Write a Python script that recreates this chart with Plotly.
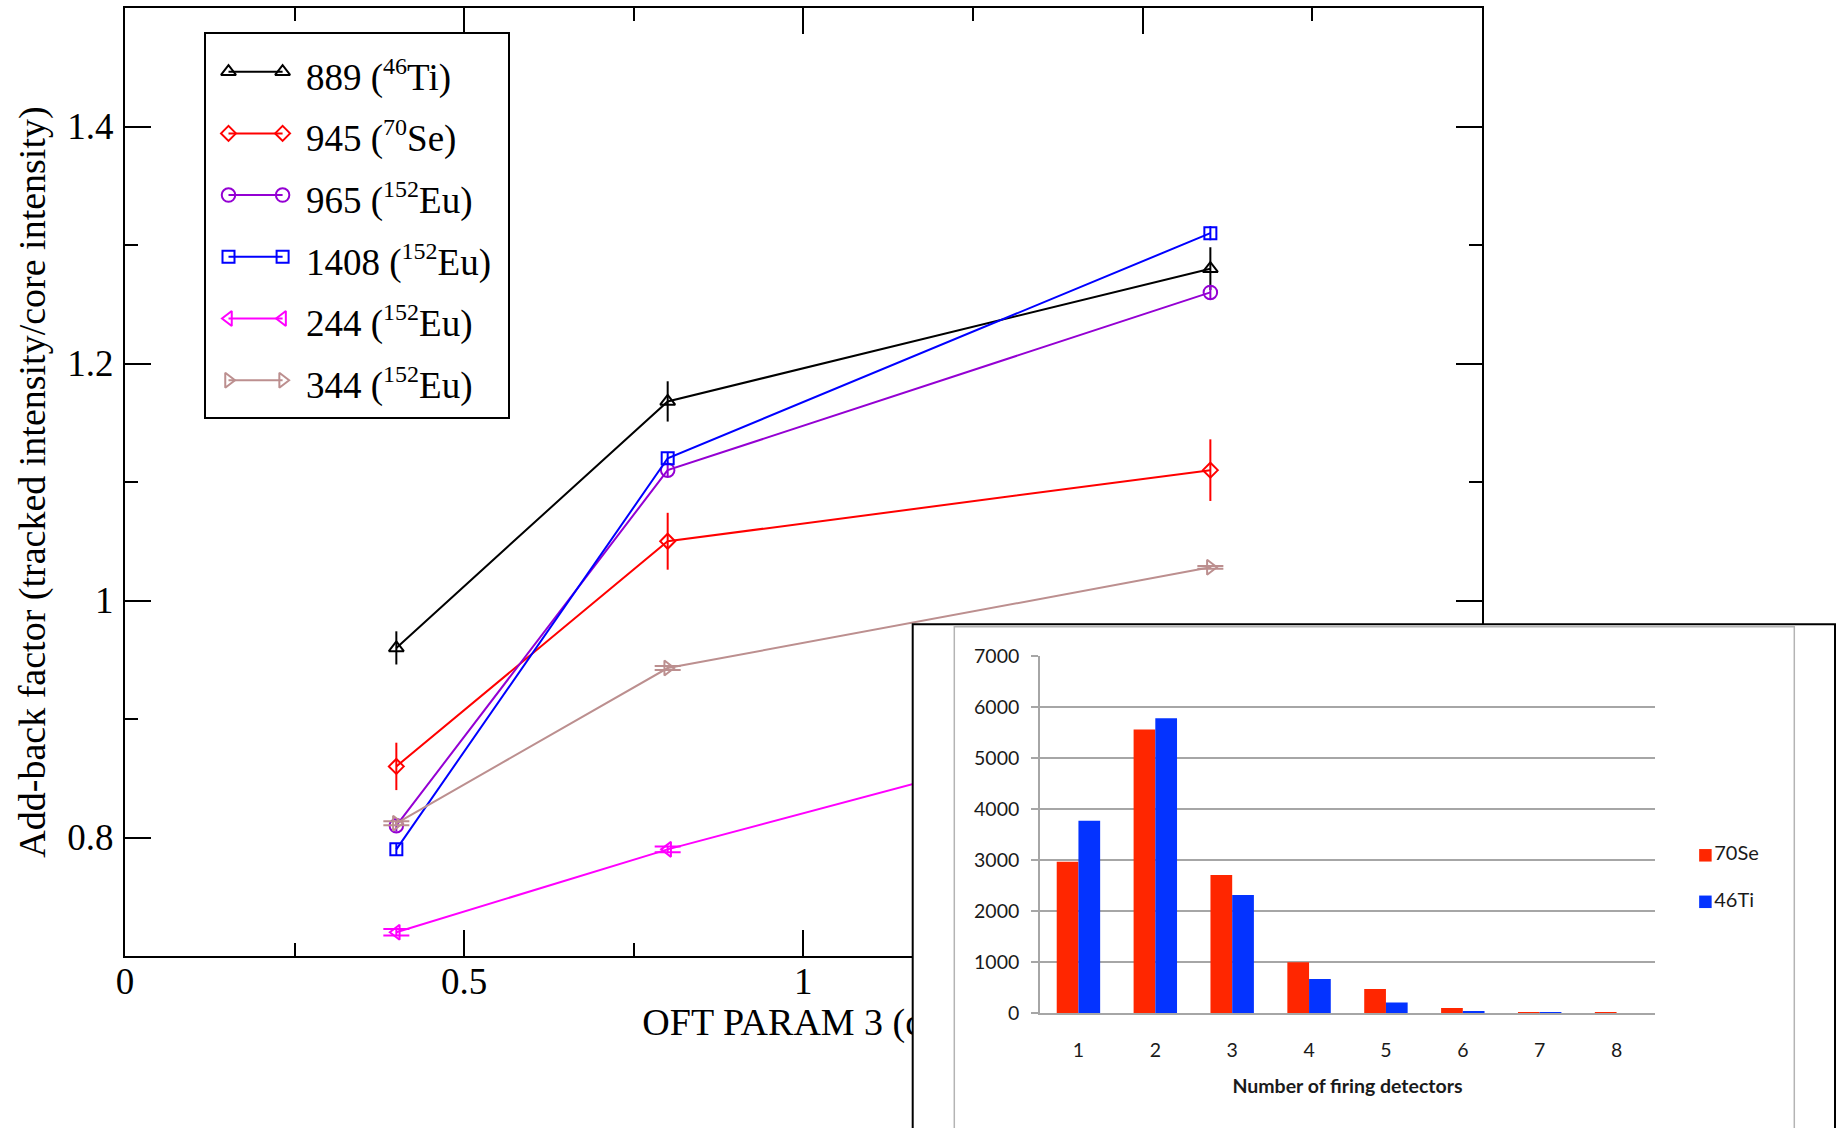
import plotly.graph_objects as go

W, H = 1838, 1128

# ---------------- main panel data: add-back factor vs OFT parameter 3 ----------------
oft_param = [0.4, 0.8, 1.6]

series_names = [
    "889 (<sup>46</sup>Ti)",
    "945 (<sup>70</sup>Se)",
    "965 (<sup>152</sup>Eu)",
    "1408 (<sup>152</sup>Eu)",
    "244 (<sup>152</sup>Eu)",
    "344 (<sup>152</sup>Eu)",
]
ti46_889 = [0.96, 1.168, 1.28]
ti46_889_err = [0.014, 0.017, 0.018]
se70_945 = [0.86, 1.05, 1.11]
se70_945_err = [0.020, 0.024, 0.026]
eu152_965 = [0.81, 1.11, 1.26]
eu152_965_err = [0.005, 0.005, 0.006]
eu152_1408 = [0.79, 1.12, 1.31]
eu152_1408_err = [0.005, 0.005, 0.006]
eu152_244 = [0.72, 0.79, 0.912]
eu152_244_err = [0.0028, 0.0025, 0.0025]
eu152_344 = [0.812, 0.943, 1.028]
eu152_344_err = [0.0017, 0.0017, 0.0012]

x_title = "OFT PARAM 3 (cm)"
y_title = "Add-back factor (tracked intensity/core intensity)"

# ---------------- inset data: firing-detector multiplicity ----------------
n_firing = [1, 2, 3, 4, 5, 6, 7, 8]
counts_70se = [2970, 5560, 2710, 1000, 475, 105, 20, 18]
counts_46ti = [3770, 5780, 2320, 670, 210, 45, 20, 0]

values = [ti46_889, se70_945, eu152_965, eu152_1408, eu152_244, eu152_344]
errors = [ti46_889_err, se70_945_err, eu152_965_err, eu152_1408_err, eu152_244_err, eu152_344_err]
styles = [
    dict(color="#000000", symbol="triangle-up-open", size=13, cap=0),
    dict(color="#ff0000", symbol="diamond-open", size=11.5, cap=0),
    dict(color="#9400d3", symbol="circle-open", size=13.5, cap=0),
    dict(color="#0000ff", symbol="square-open", size=12, cap=0),
    dict(color="#ff00ff", symbol="triangle-left-open", size=13, cap=13),
    dict(color="#bc8f8f", symbol="triangle-right-open", size=13, cap=13),
]

SERIF = "Liberation Serif, Times New Roman, serif"
SANS = "Lato, Open Sans, sans-serif"


def px_x(px):
    return px / W


def px_y(py):
    return 1 - py / H


def sup_small(label):
    # size of the isotope mass numbers written as superscripts
    return label.replace("<sup>", "<sup><span style='font-size:24px'>").replace("</sup>", "</span></sup>")


fig = go.Figure()

# main curves with error bars
for vals, errs, st in zip(values, errors, styles):
    fig.add_trace(go.Scatter(
        x=oft_param, y=vals, mode="lines+markers",
        line=dict(color=st["color"], width=2),
        marker=dict(symbol=st["symbol"], size=st["size"], color=st["color"],
                    line=dict(color=st["color"], width=2)),
        error_y=dict(type="data", array=errs, visible=True, color=st["color"],
                     thickness=2, width=st["cap"]),
        xaxis="x", yaxis="y", showlegend=False, hoverinfo="skip",
    ))

# main x-axis title, drawn in a low subplot layer so the inset hides its tail
fig.add_trace(go.Scatter(
    x=[0.5], y=[0.5], mode="text", text=[x_title], textposition="middle center",
    textfont=dict(family=SERIF, size=38, color="black"),
    xaxis="x2", yaxis="y2", showlegend=False, hoverinfo="skip", cliponaxis=False,
))

# inset panel legend keys (inset frame measured in pixels from its top-left corner)
inset_keys = [("70Se", "#ff2600", 231.0), ("46Ti", "#0433ff", 277.5)]
for name, col, ky in inset_keys:
    fig.add_trace(go.Scatter(
        x=[792.7], y=[ky], mode="markers+text", text=[name], textposition="middle right",
        textfont=dict(family=SANS, size=20, color="#1a1a1a"),
        marker=dict(symbol="square", size=12.5, color=col, line=dict(width=0)),
        xaxis="x3", yaxis="y3", showlegend=False, hoverinfo="skip", cliponaxis=False,
    ))

# inset bars
fig.add_trace(go.Bar(x=n_firing, y=counts_70se, name="70Se", marker=dict(color="#ff2600", line=dict(width=0)),
                     xaxis="x4", yaxis="y4", showlegend=False))
fig.add_trace(go.Bar(x=n_firing, y=counts_46ti, name="46Ti", marker=dict(color="#0433ff", line=dict(width=0)),
                     xaxis="x4", yaxis="y4", showlegend=False))

# main legend box: one row per series, markers at both ends of the sample line
annotations = []
for i, (name, st) in enumerate(zip(series_names, styles)):
    fig.add_trace(go.Scatter(
        x=[22.5, 76.6], y=[i, i], mode="lines+markers",
        line=dict(color=st["color"], width=2),
        marker=dict(symbol=st["symbol"], size=st["size"], color=st["color"],
                    line=dict(color=st["color"], width=2)),
        xaxis="x5", yaxis="y5", showlegend=False, hoverinfo="skip", cliponaxis=False,
    ))
    annotations.append(dict(
        x=97.6, y=i, xref="x5", yref="y5", text=sup_small(name), showarrow=False,
        xanchor="left", yanchor="middle", yshift=-4,
        font=dict(family=SERIF, size=37, color="black"),
    ))

hidden = dict(visible=False, fixedrange=True, automargin=False)
MAIN_X = [px_x(125), px_x(1481.7)]

fig.update_layout(
    template="none",
    width=W, height=H,
    margin=dict(l=0, r=0, t=0, b=0, pad=0, autoexpand=False),
    paper_bgcolor="white", plot_bgcolor="white",
    font=dict(family=SERIF, color="black"),
    showlegend=False,
    bargap=0.435, bargroupgap=0, barmode="group",
    xaxis=dict(
        domain=MAIN_X, range=[0, 2], anchor="y", automargin=False,
        tick0=0, dtick=0.5, ticks="inside", ticklen=26, tickwidth=2, tickcolor="black",
        minor=dict(dtick=0.25, ticks="inside", ticklen=13, tickwidth=2, tickcolor="black", showgrid=False),
        showline=True, linewidth=2, linecolor="black", mirror="allticks",
        showgrid=False, zeroline=False,
        tickfont=dict(family=SERIF, size=37, color="black"),
        ticklabelstandoff=-8,
        fixedrange=True,
    ),
    yaxis=dict(
        domain=[px_y(956), px_y(8)], range=[0.7, 1.5], anchor="x", automargin=False,
        tick0=0, dtick=0.2, ticks="inside", ticklen=26, tickwidth=2, tickcolor="black",
        minor=dict(dtick=0.1, ticks="inside", ticklen=13, tickwidth=2, tickcolor="black", showgrid=False),
        showline=True, linewidth=2, linecolor="black", mirror="allticks",
        showgrid=False, zeroline=False,
        tickfont=dict(family=SERIF, size=37, color="black"),
        ticklabelstandoff=2,
        title=dict(text=y_title, font=dict(family=SERIF, size=38, color="black"), standoff=10),
        fixedrange=True,
    ),
    # strip below the main axis that carries the x title
    xaxis2=dict(domain=MAIN_X, range=[0, 1], anchor="y2", **hidden),
    yaxis2=dict(domain=[px_y(1050), px_y(1000)], range=[0, 1], anchor="x2", **hidden),
    # inset panel, in pixels from its top-left corner
    xaxis3=dict(domain=[px_x(912.7), 1], range=[0, W - 912.7], anchor="y3", **hidden),
    yaxis3=dict(domain=[0, px_y(624.3)], range=[H - 624.3, 0], anchor="x3", **hidden),
    xaxis4=dict(
        domain=[px_x(1040), px_x(1655)], range=[0.5, 8.5], anchor="y4", automargin=False,
        tick0=1, dtick=1, ticks="", showgrid=False, zeroline=False,
        showline=True, linecolor="#a6a6a6", linewidth=1.6,
        tickfont=dict(family=SANS, size=19.5, color="#1a1a1a"),
        ticklabelstandoff=18,
        title=dict(text="<b>Number of firing detectors</b>",
                   font=dict(family=SANS, size=19.5, color="#1a1a1a"), standoff=20),
        fixedrange=True,
    ),
    yaxis4=dict(
        domain=[px_y(1013.3), px_y(656)], range=[0, 7000], anchor="x4", automargin=False,
        tick0=0, dtick=1000, ticks="outside", ticklen=7, tickwidth=1.6, tickcolor="#a6a6a6",
        showgrid=True, gridcolor="#a6a6a6", gridwidth=1.6, zeroline=False,
        showline=True, linecolor="#a6a6a6", linewidth=1.6,
        tickfont=dict(family=SANS, size=19.5, color="#1a1a1a"),
        ticklabelstandoff=8,
        fixedrange=True,
    ),
    # legend box of the main panel
    xaxis5=dict(domain=[px_x(206), px_x(508.3)], range=[0, 302.3], anchor="y5", automargin=False,
                showticklabels=False, ticks="", showgrid=False, zeroline=False,
                showline=True, mirror=True, linecolor="black", linewidth=2, fixedrange=True),
    yaxis5=dict(domain=[px_y(416.7), px_y(34.3)], range=[5.592, -0.606], anchor="x5", automargin=False,
                showticklabels=False, ticks="", showgrid=False, zeroline=False,
                showline=True, mirror=True, linecolor="black", linewidth=2, fixedrange=True),
    annotations=annotations,
    shapes=[
        # outer black frame of the inset
        dict(type="rect", xref="paper", yref="paper", layer="above",
             x0=px_x(912.7), x1=px_x(1835), y0=-0.1, y1=px_y(624.3),
             line=dict(color="black", width=2), fillcolor="rgba(0,0,0,0)"),
        # light grey chart-area frame inside the inset
        dict(type="rect", xref="paper", yref="paper", layer="above",
             x0=px_x(954.3), x1=px_x(1794.3), y0=-0.1, y1=px_y(626.7),
             line=dict(color="#b4b4b4", width=1.5), fillcolor="rgba(0,0,0,0)"),
    ],
)

# the page body keeps no margin so the figure fills the window exactly
fig.write_html("out.html", post_script="document.body.style.margin='0px';")
